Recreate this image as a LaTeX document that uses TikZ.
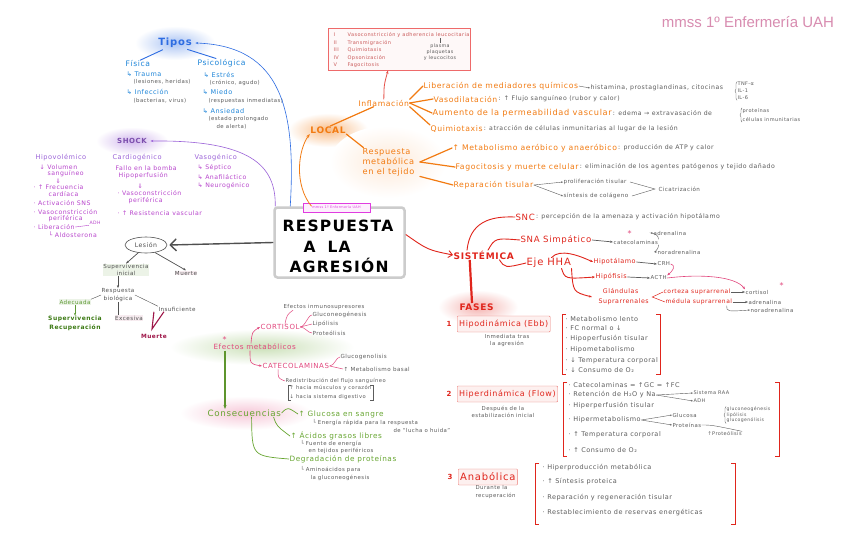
\documentclass[tikz,border=0pt]{standalone}
\usepackage{fontspec}
\setmainfont[LetterSpace=8]{DejaVu Sans}
\newfontfamily\titlefont{Liberation Sans}
\usetikzlibrary{arrows.meta,shapes.geometric,decorations.pathreplacing}
\definecolor{inkgray}{HTML}{5C5C5C}
\definecolor{tiposblue}{HTML}{2D6CE2}
\definecolor{fisblue}{HTML}{1F86D9}
\definecolor{shockviolet}{HTML}{9B62D8}
\definecolor{shockmag}{HTML}{B845CC}
\definecolor{lesgray}{HTML}{505050}
\definecolor{survgreen}{HTML}{5E9A35}
\definecolor{darkgreen}{HTML}{3C7A14}
\definecolor{deathred}{HTML}{9E1547}
\definecolor{localorange}{HTML}{F27B12}
\definecolor{sisred}{HTML}{E0251C}
\definecolor{salmon}{HTML}{EE6A6A}
\definecolor{efpink}{HTML}{E2487E}
\definecolor{consgreen}{HTML}{68A632}
\definecolor{titlepink}{HTML}{D88CB0}
\definecolor{tagmag}{HTML}{E03CE0}
\newcommand{\glow}[4]{\shade[inner color=#1, outer color=white] #2 ellipse (#3 and #4);}
\newcommand{\redbracket}[4]{%
  \draw[sisred, line width=1pt] (#1+4,#2) -- (#1,#2) -- (#1,#4) -- (#1+4,#4);
  \draw[sisred, line width=1pt] (#3-4,#2) -- (#3,#2) -- (#3,#4) -- (#3-4,#4);
}

\begin{document}
\begin{tikzpicture}[
  x=1pt, y=-1pt,
  every node/.style={inner sep=0.4pt, anchor=west, align=left},
  fsz/.style 2 args={font=\fontsize{#1}{#2}\selectfont},
  note/.style={text=inkgray, fsz={6.2}{7.2}},
  smallnote/.style={text=inkgray, fsz={5.4}{6.4}},
  title/.style={text=titlepink, font=\titlefont\fontsize{15}{16}\selectfont, anchor=center},
  tipohead/.style={text=tiposblue, font=\bfseries\fontsize{10}{11}\selectfont, anchor=center},
  tipocat/.style={text=fisblue, fsz={7.6}{8.6}},
  tipoitem/.style={text=fisblue, fsz={6.5}{7.5}},
  shockhead/.style={text=shockviolet!80!black, font=\bfseries\fontsize{7}{8}\selectfont, anchor=center},
  shockcat/.style={text=shockviolet, fsz={6.6}{7.6}},
  shockitem/.style={text=shockmag, fsz={6.2}{7}},
  lesnote/.style={text=lesgray, fsz={5.6}{7.4}, anchor=center, align=center},
  bigtitle/.style={text=black, font=\bfseries\fontsize{15.5}{17}\selectfont},
  tag/.style={draw=tagmag, fill=tagmag!8, text=tagmag, fsz={3.4}{4}, minimum width=67pt, minimum height=9pt, anchor=center},
  localhead/.style={text=localorange, font=\bfseries\fontsize{9}{10}\selectfont, anchor=center},
  orangeitem/.style={text=localorange, fsz={7.7}{10}},
  etapa/.style={text=salmon!85!black, fsz={5}{6}},
  sishead/.style={text=sisred, font=\bfseries\fontsize{9}{10}\selectfont},
  reditem/.style={text=sisred, fsz={8.6}{9.5}},
  redsmall/.style={text=sisred, fsz={6.5}{9}},
  fasebox/.style={draw=sisred!60, fill=sisred!7, text=sisred, fsz={8}{9}, inner sep=2pt, minimum height=16pt, rounded corners=1pt},
  fasenum/.style={text=sisred, font=\bfseries\fontsize{7}{8}\selectfont},
  listitem/.style={text=inkgray, fsz={6.5}{7.5}},
  efhead/.style={text=efpink, fsz={7.2}{8.2}},
  efitem/.style={text=efpink, fsz={7}{8}},
  conshead/.style={text=consgreen, fsz={8.7}{9.7}},
  consitem/.style={text=consgreen, fsz={7.3}{8.3}},
  orangeline/.style={localorange, line width=1.2pt, line cap=round},
  redline/.style={sisred, line width=0.9pt, line cap=round},
  grayarr/.style={inkgray, line width=0.7pt, -{Stealth[length=3pt]}},
  graythin/.style={inkgray, line width=0.4pt, -{Stealth[length=2pt]}},
  pinkline/.style={efpink, line width=0.5pt},
  pinkarr/.style={efpink, line width=0.6pt, -{Stealth[length=3pt]}},
  consline/.style={consgreen, line width=0.7pt},
  tinybrace/.style={inkgray, line width=0.4pt, decorate, decoration={brace, amplitude=2pt}}
]
  \fill[white] (0,0) rectangle (848,554);
  \useasboundingbox (0,0) rectangle (848,554);

  % glows
  \glow{tiposblue!40}{(175,43)}{40}{17}
  \glow{shockviolet!45}{(132,141)}{36}{14}
  \glow{localorange!50}{(328,130)}{40}{17}
  \glow{localorange!16}{(388,162)}{58}{36}
  \glow{sisred!35}{(478,307)}{40}{17}
  \glow{consgreen!35}{(262,347)}{92}{18}
  \glow{efpink!30}{(246,413)}{66}{17}

  \node[title] (title) at (748,22) {mmss 1º Enfermería UAH};

  % tipos
  \node[tipohead] (tipos) at (175,43) {Tipos};
  \node[tipocat] (fisica) at (125,64) {Física};
  \node[tipoitem] (trauma) at (126,74) {↳ Trauma};
  \node[smallnote] (traumaN) at (133,82) {(lesiones, heridas)};
  \node[tipoitem] (infec) at (126,92) {↳ Infección};
  \node[smallnote] (infecN) at (133,101) {(bacterias, virus)};
  \node[tipocat] (psico) at (197,63) {Psicológica};
  \node[tipoitem] (estres) at (203,75) {↳ Estrés};
  \node[smallnote] (estresN) at (209,83) {(crónico, agudo)};
  \node[tipoitem] (miedo) at (202,92) {↳ Miedo};
  \node[smallnote] (miedoN) at (208,101) {(respuestas inmediatas)};
  \node[tipoitem] (ansie) at (202,111) {↳ Ansiedad};
  \node[smallnote] (ansieN) at (208,119) {(estado prolongado};
  \node[smallnote] (ansieN2) at (216,127) {de alerta)};

  % shock
  \node[shockhead] (shock) at (132,141) {SHOCK};
  \node[shockcat] (hipov) at (35,158) {Hipovolémico};
  \node[shockitem] (hv1) at (39,167) {↓ Volumen};
  \node[shockitem] (hv1b) at (47,174) {sanguíneo};
  \node[shockitem] (hv2) at (55,181) {⇓};
  \node[shockitem] (hv3) at (33,187) {· ↑ Frecuencia};
  \node[shockitem] (hv3b) at (48,194) {cardíaca};
  \node[shockitem] (hv4) at (33,203) {· Activación SNS};
  \node[shockitem] (hv5) at (33,212) {· Vasoconstricción};
  \node[shockitem] (hv5b) at (48,219) {periférica};
  \node[shockitem] (hv6) at (33,227) {· Liberación};
  \node[shockitem, fsz={4.6}{5}] (adh) at (89,223) {ADH};
  \node[shockitem] (aldo) at (48,235) {└ Aldosterona};
  \node[shockcat] (cardio) at (112,158) {Cardiogénico};
  \node[shockitem] (cg1) at (115,168) {Fallo en la bomba};
  \node[shockitem] (cg2) at (118,176) {Hipoperfusión};
  \node[shockitem] (cg3) at (137,186) {⇓};
  \node[shockitem] (cg4) at (117,193) {· Vasoconstricción};
  \node[shockitem] (cg4b) at (128,201) {periférica};
  \node[shockitem] (cg5) at (117,213) {· ↑ Resistencia vascular};
  \node[shockcat] (vaso) at (194,158) {Vasogénico};
  \node[shockitem] (vs1) at (197,168) {↳ Séptico};
  \node[shockitem] (vs2) at (197,177) {↳ Anafiláctico};
  \node[shockitem] (vs3) at (197,186) {↳ Neurogénico};

  % centre
  \node[draw=gray!40, line width=2.5pt, rounded corners=3pt, minimum width=130pt, minimum height=70pt, anchor=center] (box) at (339.5,242.5) {};
  \node[bigtitle] (resp) at (282,226) {RESPUESTA};
  \node[bigtitle] (ala) at (303,247) {A\hspace{12pt}LA};
  \node[bigtitle] (agr) at (289,265) {AGRESIÓN};
  \node[tag] (tag) at (336.5,207.5) {mmss 1º Enfermería UAH};

  % lesion
  \node[draw=lesgray, ellipse, line width=0.6pt, minimum width=42pt, minimum height=16pt, anchor=center, text=lesgray, fsz={6.2}{7}] (lesion) at (146,245) {Lesión};
  \node[lesnote, fill=survgreen!12] (superv) at (126,270) {Supervivencia\\inicial};
  \node[lesnote, fill=deathred!8] (muerteA) at (186,273) {Muerte};
  \node[lesnote] (respbio) at (118,295) {Respuesta\\biológica};
  \node[lesnote, text=survgreen, fill=survgreen!12] (adecuada) at (75,302) {Adecuada};
  \node[lesnote, fill=deathred!8] (excesiva) at (129,318) {Excesiva};
  \node[lesnote] (insuf) at (177,309) {Insuficiente};
  \node[lesnote, text=darkgreen, font=\bfseries\fontsize{6}{8.5}\selectfont] (recup) at (75,323.5) {Supervivencia\\Recuperación};
  \node[lesnote, text=deathred, font=\bfseries\fontsize{5.8}{7}\selectfont] (muerteB) at (154,336) {Muerte};
  \coordinate (vtip) at (152,329);

  % local
  \node[localhead] (local) at (328,130) {LOCAL};
  \node[orangeitem] (inflam) at (358,103) {Inflamación};
  \node[draw=salmon, line width=0.8pt, fill=salmon!5, minimum width=142pt, minimum height=42pt, anchor=center] (etapas) at (399,49) {};
  \node[etapa] (et1) at (333,35) {\makebox[14pt][l]{I}Vasoconstricción y adherencia leucocitaria};
  \node[etapa] (et2) at (333,43) {\makebox[14pt][l]{II}Transmigración};
  \node[etapa] (et3) at (333,50) {\makebox[14pt][l]{III}Quimiotaxis};
  \node[etapa] (et4) at (333,58) {\makebox[14pt][l]{IV}Opsonización};
  \node[etapa] (et5) at (333,65) {\makebox[14pt][l]{V}Fagocitosis};
  \node[smallnote, fsz={4.8}{6.2}, align=center, anchor=center] (plasma) at (440,52) {plasma\\plaquetas\\y leucocitos};

  \node[orangeitem] (lib) at (423,86) {Liberación de mediadores químicos};
  \node[note] (libN) at (590,88) {histamina, prostaglandinas, citocinas};
  \node[smallnote, fsz={5}{6.8}] (tnf) at (737,91) {TNF-α\\IL-1\\IL-6};
  \node[orangeitem] (vasod) at (433,99) {Vasodilatación};
  \node[note] (vasodN) at (vasod.east) {: ↑ Flujo sanguíneo (rubor y calor)};
  \node[orangeitem, fsz={8.2}{9}] (perm) at (432,113) {Aumento de la permeabilidad vascular};
  \node[note] (permN) at (perm.east) {: edema → extravasación de};
  \node[smallnote, fsz={5}{9}] (prot) at (742,115) {proteínas\\células inmunitarias};
  \node[orangeitem] (quimio) at (430,129) {Quimiotaxis};
  \node[note] (quimioN) at (quimio.east) {: atracción de células inmunitarias al lugar de la lesión};

  \node[orangeitem, fsz={8.2}{10}] (respmet) at (362,162) {Respuesta\\metabólica\\en el tejido};
  \node[orangeitem] (metab) at (452,148) {↑ Metabolismo aeróbico y anaeróbico};
  \node[note] (metabN) at (metab.east) {: producción de ATP y calor};
  \node[orangeitem] (fago) at (455,167) {Fagocitosis y muerte celular};
  \node[note] (fagoN) at (fago.east) {: eliminación de los agentes patógenos y tejido dañado};
  \node[orangeitem] (repar) at (453,185) {Reparación tisular};
  \node[note, fsz={5.6}{6.6}] (prolif) at (563,182) {proliferación tisular};
  \node[note, fsz={5.6}{6.6}] (colag) at (563,196) {síntesis de colágeno};
  \node[note, fsz={5.6}{6.6}] (cicat) at (658,189) {Cicatrización};

  % sistemica
  \node[sishead] (sis) at (453,255) {SISTÉMICA};
  \node[reditem] (snc) at (515,217) {SNC};
  \node[note] (sncN) at (snc.east) {: percepción de la amenaza y activación hipotálamo};
  \node[reditem] (sna) at (520,240) {SNA Simpático};
  \node[note, fsz={5.4}{6.4}] (catec) at (613,242) {catecolaminas};
  \node[text=efpink, fsz={8}{8}] (star1) at (627,234) {*};
  \node[note, fsz={5.4}{6.4}] (adr) at (653,233) {adrenalina};
  \node[note, fsz={5.4}{6.4}] (nor) at (657,252) {noradrenalina};
  \node[reditem, fsz={10}{11}] (hha) at (526,263) {Eje HHA};
  \node[redsmall] (hipot) at (593,262) {Hipotálamo};
  \node[note, fsz={5.4}{6.4}] (crh) at (657,264) {CRH};
  \node[redsmall] (hipof) at (595,277) {Hipófisis};
  \node[note, fsz={5.4}{6.4}] (acth) at (650,278) {ACTH};
  \node[redsmall, fsz={6.3}{10}, align=center] (glan) at (592,297) {Glándulas\\\hspace{6pt}Suprarrenales};
  \node[redsmall, fsz={6}{6.6}] (corteza) at (663,292) {corteza suprarrenal};
  \node[note, fsz={5.4}{6.4}] (cortisolS) at (745,292) {cortisol};
  \node[text=efpink, fsz={8}{8}] (star2) at (779,286) {*};
  \node[redsmall, fsz={6}{6.6}] (medula) at (665,302) {médula suprarrenal};
  \node[note, fsz={5.4}{6.4}] (adr2) at (748,302) {adrenalina};
  \node[note, fsz={5.4}{6.4}] (nor2) at (750,310) {noradrenalina};

  % fases
  \node[sishead] (fases) at (459,307) {FASES};
  \node[fasenum] (n1) at (446,324) {1};
  \node[fasebox] (f1) at (457,324) {Hipodinámica (Ebb)};
  \node[note, fsz={5.4}{7}, align=center, anchor=center] (f1N) at (507,341) {Inmediata tras\\la agresión};
  \node[listitem] (a1) at (565,319) {· Metabolismo lento};
  \node[listitem] (a2) at (565,328) {· FC normal o ↓};
  \node[listitem] (a3) at (565,339) {· Hipoperfusión tisular};
  \node[listitem] (a4) at (565,350) {· Hipometabolismo};
  \node[listitem] (a5) at (565,361) {· ↓ Temperatura corporal};
  \node[listitem] (a6) at (565,370) {· ↓ Consumo de O₂};
  \redbracket{562}{314}{660}{374}

  \node[fasenum] (n2) at (446,394) {2};
  \node[fasebox] (f2) at (457,394) {Hiperdinámica (Flow)};
  \node[note, fsz={5.4}{7.5}, align=center, anchor=center] (f2N) at (503,412) {Después de la\\estabilización inicial};
  \node[listitem] (b1) at (568,385) {· Catecolaminas = ↑GC = ↑FC};
  \node[listitem] (b2) at (568,395) {· Retención de H₂O y Na};
  \node[smallnote, fsz={5}{6}] (raa) at (693,393) {Sistema RAA};
  \node[smallnote, fsz={5}{6}] (adhB) at (693,401) {ADH};
  \node[listitem] (b3) at (568,406) {· Hiperperfusión tisular};
  \node[listitem] (b4) at (568,420) {· Hipermetabolismo};
  \node[smallnote, fsz={5.4}{6}] (gluc) at (672,415) {Glucosa};
  \node[smallnote, fsz={4.6}{5.6}] (glist) at (726,415) {gluconeogénesis\\lipólisis\\glucogenólisis};
  \node[smallnote, fsz={5.4}{6}] (prot2) at (672,425) {Proteínas};
  \node[smallnote, fsz={5}{6}] (proteol) at (707,434) {↑Proteólisis};
  \node[listitem] (b5) at (568,435) {· ↑ Temperatura corporal};
  \node[listitem] (b6) at (568,450) {· ↑ Consumo de O₂};
  \redbracket{563}{382}{779}{456}

  \node[fasenum] (n3) at (447,477) {3};
  \node[fasebox, fsz={10}{11}] (f3) at (458,477) {Anabólica};
  \node[note, fsz={5.4}{7.5}] (f3N) at (475,492) {Durante la\\recuperación};
  \node[listitem] (c1) at (542,468) {· Hiperproducción metabólica};
  \node[listitem] (c2) at (542,482) {· ↑ Síntesis proteica};
  \node[listitem] (c3) at (542,498) {· Reparación y regeneración tisular};
  \node[listitem] (c4) at (542,513) {· Restablecimiento de reservas energéticas};
  \redbracket{535}{463}{735}{524}

  % efectos metabolicos
  \node[efhead] (efectos) at (213,347) {Efectos metabólicos};
  \node[text=efpink, fsz={8}{8}] (star3) at (222,340) {*};
  \node[efitem] (cortisol) at (260,327) {CORTISOL};
  \node[note, fsz={5.4}{6.4}] (inmuno) at (283,307) {Efectos inmunosupresores};
  \node[note, fsz={5.6}{6.4}] (gneo) at (312,315) {Gluconeogénesis};
  \node[note, fsz={5.6}{6.4}] (lipo) at (312,324) {Lipólisis};
  \node[note, fsz={5.6}{6.4}] (proteo) at (312,333) {Proteólisis};
  \node[efitem] (catecol) at (262,366) {CATECOLAMINAS};
  \node[note, fsz={5.6}{6.4}] (glucog) at (340,357) {Glucogenolisis};
  \node[note, fsz={5.6}{6.4}] (metbas) at (343,369) {↑ Metabolismo basal};
  \node[note, fsz={5.2}{6.4}] (redis) at (285,381) {Redistribución del flujo sanguíneo};
  \node[note, fsz={5.2}{8.6}] (redisL) at (289,392.5) {↑ hacia músculos y corazón\\↓ hacia sistema digestivo};

  % consecuencias
  \node[conshead] (cons) at (207,413) {Consecuencias};
  \node[consitem] (gsangre) at (298,414) {↑ Glucosa en sangre};
  \node[note, fsz={5.4}{6.4}] (gsN) at (312,423) {└ Energía rápida para la respuesta};
  \node[note, fsz={5.4}{6.4}] (gsN2) at (393,430) {de “lucha o huida”};
  \node[consitem] (acidos) at (290,436) {↑ Ácidos grasos libres};
  \node[note, fsz={5.4}{6.4}] (acN) at (300,444) {└ Fuente de energía};
  \node[note, fsz={5.4}{6.4}] (acN2) at (308,451) {en tejidos periféricos};
  \node[consitem] (degr) at (289,459) {Degradación de proteínas};
  \node[note, fsz={5.4}{6.4}] (dgN) at (300,470) {└ Aminoácidos para};
  \node[note, fsz={5.4}{6.4}] (dgN2) at (310,478) {la gluconeogénesis};

  % connectors: tipos, shock
  \draw[tiposblue, line width=0.9pt, shorten <=3pt] (tipos.210) -- (fisica.60);
  \draw[tiposblue, line width=0.9pt, shorten <=3pt] (tipos.330) -- (psico.140);
  \draw[tiposblue, line width=0.6pt, -{Stealth[length=3pt]}] ([xshift=17pt]box.north west) .. controls (296,110) and (282,46) .. ([xshift=3pt]tipos.east);
  \draw[shockviolet, line width=0.6pt, -{Stealth[length=3pt]}] ([xshift=2pt]box.north west) .. controls (276,165) and (250,140) .. ([xshift=3pt]shock.east);
  \draw[shockmag, line width=0.4pt] (hv6.east) -- (adh.south west);

  % connectors: lesion
  \draw[lesgray, line width=1.4pt, -{Straight Barb[length=6pt, width=12pt]}] (box.west) -- ([xshift=2pt]lesion.east);
  \draw[lesgray, line width=0.7pt, -{Stealth[length=3pt]}] (lesion.225) -- (superv.north);
  \draw[lesgray, line width=0.7pt, -{Stealth[length=3pt]}] (lesion.320) -- (muerteA.north);
  \draw[lesgray, line width=0.8pt, -{Stealth[length=3pt]}] (superv.south -| respbio.north) -- (respbio.north);
  \draw[lesgray, line width=0.4pt] (respbio.west) -- (adecuada.north east);
  \draw[lesgray, line width=1pt] (respbio.south) -- (respbio.south |- excesiva.north);
  \draw[lesgray, line width=0.4pt] (respbio.east) -- (insuf.north west);
  \draw[survgreen, line width=0.9pt, -{Stealth[length=3pt]}] (adecuada.south) -- (recup.north);
  \draw[deathred, line width=1.1pt] ([xshift=-4pt]insuf.south west) -- (vtip) -- ([xshift=6pt]insuf.south west);

  % connectors: local
  \draw[localorange, line width=0.8pt, -{Stealth[length=4pt]}] ([xshift=-28pt]box.north) .. controls (294,185) and (298,150) .. (local.south west);
  \draw[orangeline] (local.60) -- (inflam.200);
  \draw[orangeline] (local.south east) -- (respmet.150);
  \draw[sisred!80, line width=0.8pt, -{Stealth[length=3.5pt]}] (inflam.north) .. controls (384,85) .. ([xshift=-11pt]etapas.south);
  \draw[inkgray, line width=0.4pt] (plasma.north) -- (plasma.north |- et1.south);
  \draw[orangeline] (inflam.north east) -- (lib.west);
  \draw[orangeline] (inflam.east) -- (vasod.west);
  \draw[orangeline] (inflam.east) -- (perm.west);
  \draw[orangeline] (inflam.south east) -- (quimio.north west);
  \draw[graythin] (lib.east) -- (libN.west);
  \draw[tinybrace] (tnf.south west) -- (tnf.north west);
  \draw[tinybrace] (prot.south west) -- (prot.north west);
  \draw[orangeline] ([xshift=5pt]respmet.east) -- (metab.west);
  \draw[orangeline] ([xshift=5pt]respmet.east) -- (fago.west);
  \draw[orangeline] ([xshift=5pt]respmet.south east) -- (repar.west);
  \draw[graythin] (repar.east) -- (prolif.west);
  \draw[graythin] (repar.east) -- (colag.west);
  \draw[inkgray, line width=0.4pt] ([xshift=3pt]prolif.east) -- ([xshift=-3pt]cicat.west) -- ([xshift=3pt]colag.east);

  % connectors: sistemica
  \draw[sisred, line width=0.9pt, -{Straight Barb[length=4pt, width=7pt]}] ([yshift=8pt]box.east) .. controls (428,250) .. (sis.west);
  \draw[redline] ([xshift=14pt]sis.north west) .. controls (470,222) and (490,216) .. (snc.west);
  \draw[redline] ([xshift=35pt]sis.north west) .. controls (495,238) .. (sna.west);
  \draw[grayarr] (sna.east) -- (catec.west);
  \draw[graythin] (catec.north east) .. controls +(0,-7) and +(-5,0) .. (adr.west);
  \draw[graythin] (catec.south east) .. controls +(0,7) and +(-5,0) .. (nor.west);
  \draw[redline] ([xshift=-15pt]sis.south east) .. controls (505,268) .. (hha.west);
  \draw[redline, -{Stealth[length=3pt]}] ([xshift=-20pt]hha.north east) .. controls (560,248) and (580,256) .. (hipot.west);
  \draw[redline, -{Stealth[length=3pt]}] ([xshift=-10pt]hha.south east) .. controls (565,279) .. (hipof.west);
  \draw[redline, -{Stealth[length=3pt]}] (hha.south east) .. controls (573,292) .. (glan.west);
  \draw[grayarr] (hipot.east) -- (crh.west);
  \draw[grayarr] (hipof.east) -- (acth.west);
  \draw[pinkarr] (crh.east) .. controls +(6,2) and +(5,-4) .. (acth.north east);
  \draw[pinkarr] (acth.east) .. controls (700,274) and (735,276) .. (cortisolS.north west);
  \draw[redline, line width=0.5pt] (corteza.west) -- ([xshift=3pt]glan.east) -- (medula.west);
  \draw[grayarr] (corteza.east) -- (cortisolS.west);
  \draw[grayarr] (medula.east) -- (adr2.west);
  \draw[graythin] ([xshift=-6pt]medula.south east) .. controls +(0,6) .. (nor2.west);
  \draw[sisred, line width=2.2pt] ([xshift=-14pt]sis.south) -- ([xshift=13pt]fases.north west);
  \draw[graythin] (b2.east) -- (raa.west);
  \draw[graythin] (b2.east) -- (adhB.west);
  \draw[graythin] (b4.east) -- (gluc.west);
  \draw[graythin] (b4.east) -- (prot2.west);
  \draw[tinybrace] (glist.south west) -- (glist.north west);
  \draw[inkgray, line width=0.4pt] (prot2.east) .. controls +(10,0) .. (proteol.north east);

  % connectors: efectos, consecuencias
  \draw[pinkarr] ([xshift=38pt]efectos.north west) .. controls (252,332) .. (cortisol.west);
  \draw[pinkline] ([xshift=25pt]cortisol.north west) .. controls +(2,-9) .. ([xshift=10pt]inmuno.south west);
  \draw[pinkline] (cortisol.east) .. controls +(5,0) and +(-4,0) .. (gneo.west);
  \draw[pinkline] (cortisol.east) -- (lipo.west);
  \draw[pinkline] (cortisol.east) .. controls +(5,0) and +(-4,0) .. (proteo.west);
  \draw[pinkarr] ([xshift=37pt]efectos.south west) .. controls (250,364) .. (catecol.west);
  \draw[pinkline] (catecol.east) .. controls +(5,0) and +(-4,0) .. (glucog.west);
  \draw[pinkline] (catecol.east) -- (metbas.west);
  \draw[pinkline] ([xshift=16pt]catecol.south west) .. controls +(0,9) .. (redis.west);
  \draw[inkgray, line width=0.4pt] ([xshift=2pt]redisL.north west) -- ([xshift=-1pt]redisL.north west) -- ([xshift=-1pt]redisL.south west) -- ([xshift=2pt]redisL.south west);
  \draw[inkgray, line width=0.4pt] ([xshift=-2pt]redisL.north east) -- ([xshift=1pt]redisL.north east) -- ([xshift=1pt]redisL.south east) -- ([xshift=-2pt]redisL.south east);
  \draw[consgreen!90!black, line width=1.1pt, -{Stealth[length=4pt]}] ([xshift=12pt]efectos.south west) -- ([xshift=18pt]cons.north west);
  \draw[consline] (cons.east) .. controls +(6,-6) .. (gsangre.west);
  \draw[consline] ([xshift=-8pt]cons.south east) .. controls +(3,9) .. (acidos.west);
  \draw[consline] ([xshift=-30pt]cons.south east) .. controls (252,456) .. (degr.west);
\end{tikzpicture}
\end{document}
